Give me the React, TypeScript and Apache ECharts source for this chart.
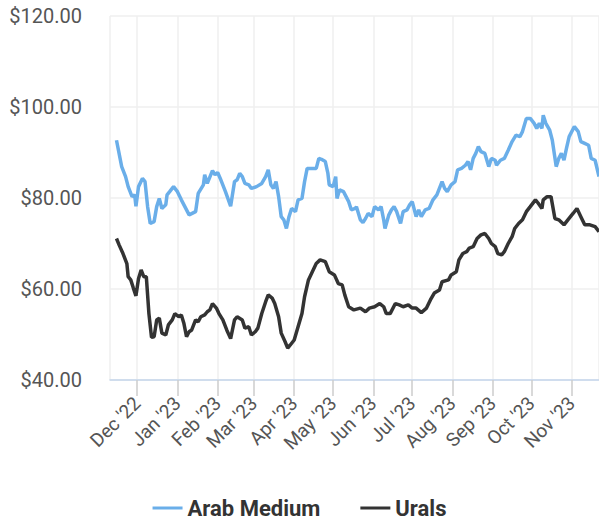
import React, { useEffect, useRef } from "react";
import * as echarts from "echarts";

const arabDates = [
  "2022-11-15","2022-11-17","2022-11-19","2022-11-22","2022-11-24","2022-11-27","2022-11-29","2022-11-30",
  "2022-12-02","2022-12-05","2022-12-07","2022-12-09","2022-12-11","2022-12-14","2022-12-16","2022-12-18",
  "2022-12-20","2022-12-23","2022-12-24","2022-12-26","2022-12-29","2023-01-01","2023-01-04","2023-01-10",
  "2023-01-15","2023-01-17","2023-01-21","2023-01-22","2023-01-24","2023-01-28","2023-01-30","2023-02-01",
  "2023-02-03","2023-02-07","2023-02-11","2023-02-14","2023-02-16","2023-02-18","2023-02-20","2023-02-22",
  "2023-02-25","2023-02-27","2023-03-03","2023-03-07","2023-03-10","2023-03-12","2023-03-14","2023-03-16",
  "2023-03-18","2023-03-20","2023-03-22","2023-03-24","2023-03-26","2023-03-28","2023-03-30","2023-04-02",
  "2023-04-04","2023-04-07","2023-04-09","2023-04-11","2023-04-15","2023-04-18","2023-04-20","2023-04-22",
  "2023-04-25","2023-04-27","2023-04-28","2023-05-01","2023-05-03","2023-05-04","2023-05-06","2023-05-09",
  "2023-05-13","2023-05-15","2023-05-18","2023-05-19","2023-05-22","2023-05-24","2023-05-26","2023-05-28",
  "2023-05-31","2023-06-02","2023-06-05","2023-06-07","2023-06-09","2023-06-10","2023-06-13","2023-06-15",
  "2023-06-17","2023-06-19","2023-06-22","2023-06-24","2023-06-27","2023-06-29","2023-07-01","2023-07-04",
  "2023-07-06","2023-07-08","2023-07-11","2023-07-14","2023-07-17","2023-07-20","2023-07-24","2023-07-26",
  "2023-07-28","2023-07-31","2023-08-03","2023-08-05","2023-08-08","2023-08-11","2023-08-13","2023-08-15",
  "2023-08-17","2023-08-19","2023-08-21","2023-08-23","2023-08-26","2023-08-29","2023-08-31","2023-09-03",
  "2023-09-04","2023-09-07","2023-09-10","2023-09-13","2023-09-16","2023-09-19","2023-09-22","2023-09-24",
  "2023-09-27","2023-09-30","2023-10-03","2023-10-05","2023-10-07","2023-10-09","2023-10-10","2023-10-12",
  "2023-10-15","2023-10-17","2023-10-20","2023-10-22","2023-10-24","2023-10-26","2023-10-28","2023-10-30",
  "2023-11-03","2023-11-06","2023-11-08","2023-11-11","2023-11-14","2023-11-16","2023-11-19","2023-11-22"
];
const arabValues = [
  92.7, 89.8, 86.9, 84.7, 82.5, 80.3, 80.7, 78.2,
  82.5, 84.3, 83.6, 78.1, 74.4, 74.8, 78.1, 79.9,
  77.7, 78.5, 80.7, 81.4, 82.5, 81.4, 79.6, 76.3,
  77.0, 81.0, 82.9, 85.1, 83.2, 86.0, 85.1, 85.6,
  84.3, 81.4, 78.2, 83.6, 84.0, 85.4, 84.7, 83.2,
  82.9, 82.1, 82.5, 83.2, 84.7, 86.2, 82.9, 82.1,
  83.6, 80.3, 75.9, 75.2, 73.3, 75.9, 77.7, 77.0,
  79.6, 79.9, 83.6, 86.5, 86.5, 86.5, 88.7, 88.5,
  88.0, 85.4, 82.9, 82.5, 84.7, 79.9, 81.8, 81.4,
  79.2, 77.4, 77.7, 78.1, 75.2, 74.6, 75.5, 76.6,
  75.9, 78.1, 77.4, 78.1, 75.2, 73.3, 76.3, 77.4,
  78.1, 77.0, 74.4, 77.0, 77.4, 78.5, 79.2, 75.9,
  77.4, 75.9, 77.4, 77.7, 79.6, 80.7, 83.6, 82.1,
  81.4, 82.9, 83.6, 86.2, 86.5, 87.2, 88.0, 86.2,
  88.7, 89.8, 91.3, 90.2, 89.8, 86.9, 88.7, 88.3,
  87.2, 88.3, 88.7, 90.5, 92.4, 93.8, 93.5, 94.6,
  97.5, 97.5, 96.4, 95.3, 96.4, 95.3, 98.2, 96.4,
  94.9, 92.7, 86.9, 88.7, 89.8, 88.3, 91.0, 93.5,
  95.7, 94.6, 92.4, 92.0, 91.6, 88.7, 88.3, 84.7
];

const uralsDates = [
  "2022-11-15","2022-11-17","2022-11-20","2022-11-23","2022-11-24","2022-11-26","2022-11-28","2022-11-30",
  "2022-12-02","2022-12-04","2022-12-06","2022-12-08","2022-12-10","2022-12-12","2022-12-14","2022-12-16",
  "2022-12-18","2022-12-20","2022-12-23","2022-12-25","2022-12-28","2022-12-30","2023-01-02","2023-01-04",
  "2023-01-06","2023-01-08","2023-01-10","2023-01-12","2023-01-15","2023-01-17","2023-01-19","2023-01-22",
  "2023-01-24","2023-01-26","2023-01-28","2023-01-31","2023-02-02","2023-02-05","2023-02-08","2023-02-11",
  "2023-02-14","2023-02-16","2023-02-20","2023-02-22","2023-02-25","2023-02-27","2023-03-02","2023-03-04",
  "2023-03-07","2023-03-10","2023-03-12","2023-03-15","2023-03-17","2023-03-20","2023-03-22","2023-03-25",
  "2023-03-27","2023-03-29","2023-04-01","2023-04-04","2023-04-07","2023-04-09","2023-04-12","2023-04-15",
  "2023-04-18","2023-04-21","2023-04-25","2023-04-28","2023-05-02","2023-05-05","2023-05-08","2023-05-10",
  "2023-05-13","2023-05-17","2023-05-22","2023-05-26","2023-05-29","2023-06-02","2023-06-06","2023-06-09",
  "2023-06-11","2023-06-14","2023-06-18","2023-06-21","2023-06-24","2023-06-28","2023-07-01","2023-07-04",
  "2023-07-08","2023-07-12","2023-07-15","2023-07-18","2023-07-22","2023-07-24","2023-07-29","2023-07-31",
  "2023-08-04","2023-08-06","2023-08-09","2023-08-12","2023-08-14","2023-08-17","2023-08-20","2023-08-23",
  "2023-08-26","2023-08-29","2023-08-31","2023-09-03","2023-09-05","2023-09-08","2023-09-10","2023-09-13",
  "2023-09-16","2023-09-18","2023-09-21","2023-09-24","2023-09-27","2023-09-30","2023-10-04","2023-10-06",
  "2023-10-09","2023-10-10","2023-10-13","2023-10-16","2023-10-19","2023-10-22","2023-10-26","2023-10-29",
  "2023-11-02","2023-11-05","2023-11-08","2023-11-11","2023-11-15","2023-11-19","2023-11-22"
];
const uralsValues = [
  71.1, 69.7, 67.8, 65.6, 62.7, 62.0, 60.2, 58.5,
  62.3, 64.2, 62.7, 62.7, 54.6, 49.4, 49.5, 53.2,
  53.6, 50.3, 49.9, 52.1, 53.2, 54.6, 53.9, 54.3,
  52.4, 49.5, 50.6, 51.0, 53.2, 52.8, 53.9, 54.3,
  55.0, 55.4, 56.8, 55.8, 54.6, 53.2, 51.0, 49.1,
  53.2, 53.9, 53.2, 51.4, 51.7, 49.9, 50.6, 51.4,
  54.6, 57.2, 58.7, 58.0, 56.8, 53.9, 50.3, 48.4,
  47.0, 47.7, 48.8, 51.7, 54.6, 58.3, 62.0, 63.8,
  65.6, 66.4, 66.0, 63.8, 63.1, 61.2, 60.9, 58.7,
  56.1, 55.4, 55.8, 55.0, 55.8, 56.1, 56.8, 56.1,
  54.6, 54.6, 56.8, 56.5, 56.1, 56.5, 55.8, 55.8,
  54.8, 55.8, 57.6, 59.1, 59.8, 61.6, 62.0, 63.1,
  63.8, 66.4, 67.8, 68.2, 69.0, 69.3, 71.1, 71.9,
  72.2, 71.1, 70.0, 69.3, 67.8, 67.5, 68.2, 70.0,
  71.5, 73.3, 74.4, 75.2, 77.0, 78.1, 79.6, 78.9,
  77.7, 79.6, 80.3, 80.3, 75.5, 75.2, 74.1, 75.2,
  76.6, 77.7, 75.9, 74.1, 74.1, 73.7, 72.6
];

const seriesNames = ["Arab Medium", "Urals"];
const monthNames = ["Jan","Feb","Mar","Apr","May","Jun","Jul","Aug","Sep","Oct","Nov","Dec"];
const xMin = "2022-11-10";
const xMax = "2023-11-22";
const yTicks = [40, 60, 80, 100, 120];

const FONT = "Roboto, 'Noto Sans', sans-serif";

export default function App() {
  const ref = useRef<HTMLDivElement>(null);
  useEffect(() => {
    if (!ref.current) return;
    const chart = echarts.init(ref.current, undefined, { renderer: "svg" });
    const DAY = 86400000;
    chart.setOption({
      animation: false,
      backgroundColor: "#ffffff",
      grid: { left: 110, right: 0, top: 16, bottom: 139, containLabel: false },
      legend: {
        data: seriesNames,
        top: 497,
        left: "center",
        padding: 0,
        icon: "rect",
        itemWidth: 30,
        itemHeight: 3,
        itemGap: 40,
        textStyle: {
          fontFamily: FONT,
          fontSize: 22,
          lineHeight: 20,
          fontWeight: "bold",
          color: "#333333",
        },
      },
      xAxis: {
        type: "time",
        min: xMin,
        max: xMax,
        minInterval: 28 * DAY,
        maxInterval: 31 * DAY,
        axisLine: { show: true, lineStyle: { color: "#c5d6ec", width: 1.5 } },
        axisTick: { show: true, length: 16, lineStyle: { color: "#cccccc", width: 1.5 } },
        splitLine: { show: true, lineStyle: { color: "#efefef", width: 1.5 } },
        axisLabel: {
          rotate: 45,
          margin: 20,
          fontFamily: FONT,
          fontSize: 19,
          color: "#555555",
          hideOverlap: false,
          formatter: (v: number) => {
            const d = new Date(v);
            return monthNames[d.getMonth()] + " '" + String(d.getFullYear()).slice(2);
          },
        },
      },
      yAxis: {
        type: "value",
        min: yTicks[0],
        max: yTicks[yTicks.length - 1],
        interval: 20,
        axisLine: { show: false },
        axisTick: { show: false },
        splitLine: { show: true, lineStyle: { color: "#efefef", width: 1.5 } },
        axisLabel: {
          margin: 28,
          fontFamily: FONT,
          fontSize: 20,
          color: "#555555",
          formatter: (v: number) => "$" + v.toFixed(2),
        },
      },
      series: [
        {
          name: seriesNames[0],
          type: "line",
          showSymbol: false,
          symbol: "none",
          data: arabDates.map((d, i) => [d, arabValues[i]]),
          lineStyle: { color: "#6aaee9", width: 3.5 },
          itemStyle: { color: "#6aaee9" },
          z: 3,
        },
        {
          name: seriesNames[1],
          type: "line",
          showSymbol: false,
          symbol: "none",
          data: uralsDates.map((d, i) => [d, uralsValues[i]]),
          lineStyle: { color: "#333333", width: 3.5 },
          itemStyle: { color: "#333333" },
          z: 2,
        },
      ],
    });
    return () => chart.dispose();
  }, []);
  return (
    <div
      ref={ref}
      style={{ position: "absolute", left: 0, top: 0, width: 599, height: 519 }}
    />
  );
}
